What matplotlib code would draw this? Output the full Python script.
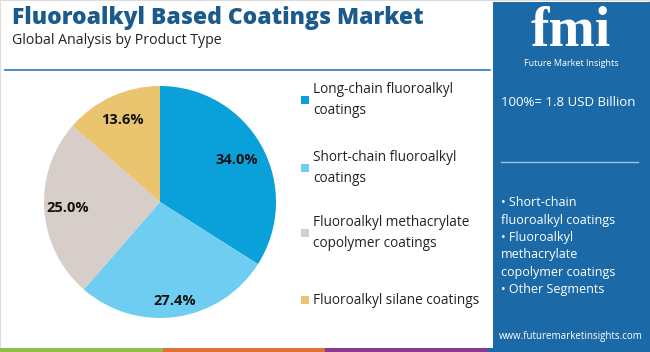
import matplotlib
matplotlib.use('Agg')
from matplotlib import pyplot as plt
from matplotlib.patches import Rectangle
import numpy as np

# data
segments = ['Long-chain fluoroalkyl\ncoatings', 'Short-chain fluoroalkyl\ncoatings',
            'Fluoroalkyl methacrylate\ncopolymer coatings', 'Fluoroalkyl silane coatings']
shares = [34.0, 27.4, 25.0, 13.6]
colors = ['#0aa1da', '#6ecdf0', '#d7cdc9', '#eac46e']
label_dist = [0.76, 0.86, 0.80, 0.78]

title = 'Fluoroalkyl Based Coatings Market'
subtitle = 'Global Analysis by Product Type'
total_text = '100%= 1.8 USD Billion'
side_bullets = ['• Short-chain', 'fluoroalkyl coatings', '• Fluoroalkyl', 'methacrylate',
                'copolymer coatings', '• Other Segments']
url = 'www.futuremarketinsights.com'
stripe_colors = ['#8cc04a', '#e2703a', '#8a3b8f', '#1b6aa8']

plt.rcParams['font.family'] = ['Open Sans', 'DejaVu Sans']

W, H = 650, 352
fig = plt.figure(figsize=(6.5, 3.52), dpi=100)
fig.patch.set_facecolor('white')

def fx(px):
    return px / W

def fy(py):
    return 1 - py / H

# frame and header
fig.add_artist(Rectangle((0, 0), 1, 1, transform=fig.transFigure, fill=False,
                         edgecolor='#dddddd', linewidth=1.5))
fig.text(fx(12), fy(18), title, fontsize=16.5, fontweight='heavy', color='#1a5b8c',
         va='center', ha='left')
fig.text(fx(12), fy(41), subtitle, fontsize=10.2, color='#222222', va='center', ha='left')
fig.add_artist(plt.Line2D([fx(5), fx(490)], [fy(70), fy(70)], transform=fig.transFigure,
                          color='#3f86bb', linewidth=1.3))

# pie
cx, cy, r = 160, 202, 116
ax = fig.add_axes([fx(cx - r), fy(cy + r), 2 * r / W, 2 * r / H])
wedges, _ = ax.pie(shares, colors=colors, startangle=90, counterclock=False, radius=1,
                   wedgeprops=dict(linewidth=0))
for w, v, d in zip(wedges, shares, label_dist):
    ang = np.deg2rad((w.theta1 + w.theta2) / 2)
    ax.text(d * np.cos(ang), d * np.sin(ang), f'{v:.1f}%', ha='center', va='center',
            fontsize=10.5, fontweight='bold', color='#111111')
ax.set_xlim(-1, 1)
ax.set_ylim(-1, 1)
ax.set_aspect('equal')
ax.axis('off')

# legend
leg_y = [110, 178, 243, 300]
for name, c, y in zip(segments, colors, leg_y):
    nlines = name.count('\n') + 1
    top = y - (nlines - 1) * 10
    fig.add_artist(Rectangle((fx(301), fy(top + 4)), 8 / W, 8 / H, transform=fig.transFigure,
                             facecolor=c, edgecolor='none'))
    fig.text(fx(313), fy(top), name, fontsize=9.8, color='#222222', va='center', ha='left',
             linespacing=1.5)

# right panel
px0 = 493
fig.add_artist(Rectangle((fx(px0), 0), (W - px0) / W, fy(2), transform=fig.transFigure,
                         facecolor='#1b6aa7', edgecolor='none'))
fig.text(fx(571), fy(46), 'fmi', fontsize=40, fontweight='bold', color='white',
         family=['Liberation Serif', 'DejaVu Serif'], ha='center', va='baseline')
fig.text(fx(571), fy(64), 'Future Market Insights', fontsize=6.5, color='white',
         ha='center', va='center')
fig.text(fx(501), fy(103), total_text, fontsize=9.5, color='white', ha='left', va='center')
fig.add_artist(plt.Line2D([fx(501), fx(638)], [fy(162), fy(162)], transform=fig.transFigure,
                          color='#9fc2de', linewidth=1))
for i, s in enumerate(side_bullets):
    fig.text(fx(501), fy(203 + i * 17.3), s, fontsize=9, color='white', ha='left', va='center')
fig.text(fx(571), fy(337), url, fontsize=7, color='white', ha='center', va='center')

# bottom stripes
sw = W / 4
for i, c in enumerate(stripe_colors):
    fig.add_artist(Rectangle((i * sw / W, 0), sw / W, 4 / H, transform=fig.transFigure,
                             facecolor=c, edgecolor='none'))

fig.savefig('out.png', dpi=100)
